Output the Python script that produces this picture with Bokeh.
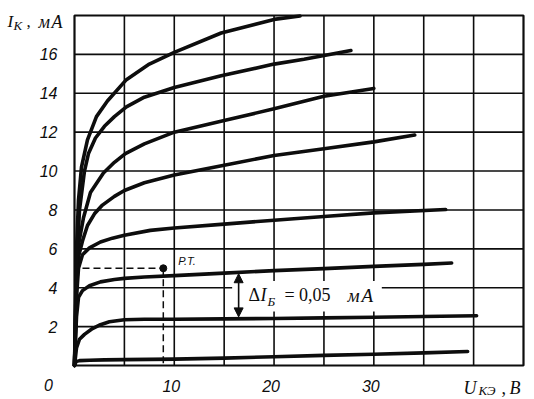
from bokeh.plotting import figure
from bokeh.models import (Label, LabelSet, ColumnDataSource, Arrow, NormalHead,
                          BoxAnnotation, Range1d)
from bokeh.core.properties import value
from bokeh.embed import file_html
from bokeh.resources import INLINE

# ---- data (U_KE in V, I_K in mA) ----
u1 = [0, 0.15, 0.5, 1.5, 3, 5, 10, 15, 20, 25, 30, 35, 39.4]
i1 = [0, 0.2, 0.25, 0.27, 0.29, 0.3, 0.33, 0.38, 0.45, 0.52, 0.58, 0.65, 0.72]

u2 = [0, 0.2, 0.5, 1, 1.8, 2.6, 3.5, 5, 7, 10, 15, 20, 25, 30, 35, 40.3]
i2 = [0, 0.9, 1.35, 1.6, 1.9, 2.1, 2.25, 2.35, 2.38, 2.38, 2.4, 2.42, 2.45, 2.48, 2.52, 2.56]

u3 = [0, 0.2, 0.4, 0.8, 1.5, 2.6, 4, 5, 7, 10, 15, 20, 25, 30, 35, 37.8]
i3 = [0, 2.5, 3.5, 3.85, 4.1, 4.3, 4.42, 4.48, 4.55, 4.62, 4.75, 4.88, 4.98, 5.1, 5.2, 5.27]

u4 = [0, 0.2, 0.4, 0.8, 1.5, 2.6, 3.8, 5, 7.6, 10, 15, 20, 25, 30, 37.2]
i4 = [0, 3.5, 5.0, 5.7, 6.05, 6.35, 6.55, 6.7, 6.95, 7.07, 7.27, 7.47, 7.66, 7.85, 8.02]

u5 = [0, 0.2, 0.4, 0.8, 1.3, 2, 2.8, 4, 5, 7, 10, 15, 20, 25, 30, 34.1]
i5 = [0, 4, 5.6, 6.4, 7.2, 7.8, 8.25, 8.7, 9.0, 9.4, 9.8, 10.3, 10.8, 11.15, 11.5, 11.85]

u6 = [0, 0.2, 0.4, 0.9, 1.6, 2.9, 4, 5.1, 7, 10, 15, 20, 25, 30]
i6 = [0, 4.5, 6.2, 7.6, 8.9, 9.9, 10.45, 10.9, 11.4, 12.0, 12.6, 13.2, 13.85, 14.25]

u7 = [0, 0.2, 0.5, 1, 1.4, 2.1, 3, 4, 5.2, 7, 10, 14.7, 20, 23, 27.7]
i7 = [0, 5, 8, 10, 10.9, 11.7, 12.3, 12.8, 13.3, 13.8, 14.3, 14.9, 15.5, 15.75, 16.2]

u8 = [0, 0.2, 0.4, 0.7, 1.3, 2.2, 3.3, 5.2, 7.5, 10, 14.7, 20, 22.6]
i8 = [0, 6, 8.5, 10.2, 11.6, 12.8, 13.6, 14.7, 15.5, 16.1, 17.1, 17.8, 17.97]

curves_u = [u1, u2, u3, u4, u5, u6, u7, u8]
curves_i = [i1, i2, i3, i4, i5, i6, i7, i8]

# operating point (Р.Т.)
op_u = 8.9
op_i = 5.0
dash_start_u = 0.8

# delta I_B arrow
arrow_u = 16.45
arrow_i_top = 4.72
arrow_i_bottom = 2.5

# axes extents, ticks and grid
u_max = 45
i_max = 18
x_ticks = [10, 20, 30]
x_tick_labels = ["10", "20", "30"]
y_ticks = [2, 4, 6, 8, 10, 12, 14, 16]
y_tick_labels = ["2", "4", "6", "8", "10", "12", "14", "16"]
x_grid = [5, 10, 15, 20, 25, 30, 35, 40]
y_grid = [2, 4, 6, 8, 10, 12, 14, 16]

INK = "#0d0d0d"
SANS = "Liberation Sans"
SERIF = "Liberation Serif"

# ---- layout: chart box in canvas pixels ----
W, H = 534, 399
BOX_L, BOX_R, BOX_T, BOX_B = 74, 523, 15, 365
kx = (BOX_R - BOX_L) / u_max
ky = (BOX_B - BOX_T) / i_max
xr = Range1d(-BOX_L / kx, u_max + (W - BOX_R) / kx)
yr = Range1d(-(H - BOX_B) / ky, i_max + BOX_T / ky)

p = figure(width=W, height=H, x_range=xr, y_range=yr,
           output_backend="svg", toolbar_location=None, min_border=0)
p.background_fill_color = "white"
p.border_fill_color = "white"
p.outline_line_color = None
p.axis.visible = False
p.grid.visible = False

# grid lines and box
p.segment(x0=x_grid, y0=[0] * len(x_grid), x1=x_grid, y1=[i_max] * len(x_grid),
          line_color=INK, line_width=1.6)
p.segment(x0=[0] * len(y_grid), y0=y_grid, x1=[u_max] * len(y_grid), y1=y_grid,
          line_color=INK, line_width=1.6)
p.quad(left=[0], right=[u_max], bottom=[0], top=[i_max],
       fill_color=None, line_color=INK, line_width=2.2)

# curves
for u, i in zip(curves_u, curves_i):
    p.line(u, i, line_color=INK, line_width=3.6, line_join="round", line_cap="round")

# operating point dashes and dot
p.line([dash_start_u, op_u], [op_i, op_i], line_color=INK, line_width=1.5, line_dash="7 4")
p.line([op_u, op_u], [op_i, 0], line_color=INK, line_width=1.5, line_dash="7 4")
p.scatter([op_u], [op_i], size=7, color=INK)

# white box behind the delta label
p.add_layout(BoxAnnotation(left=15.8, right=30.8, bottom=2.78, top=4.35,
                           fill_color="white", fill_alpha=1.0, line_color=None))

p.add_layout(Arrow(x_start=arrow_u, y_start=arrow_i_bottom, x_end=arrow_u, y_end=arrow_i_top,
                   line_color=INK, line_width=1.6,
                   start=NormalHead(size=9, fill_color=INK, line_color=INK),
                   end=NormalHead(size=9, fill_color=INK, line_color=INK)))


def lab(x, y, text, font, size, style="normal", dx=0, dy=0, align="left", base="alphabetic"):
    p.add_layout(Label(x=x, y=y, text=text, x_offset=dx, y_offset=dy,
                       text_font=font, text_font_size=size, text_font_style=style,
                       text_color=INK, text_align=align, text_baseline=base))


# ΔI_Б = 0,05 мА
ax, ay = 17.43, 3.40
lab(ax, ay, "Δ", SERIF, "18px", "normal", dx=0, dy=4)
lab(ax, ay, "I", SERIF, "18px", "italic", dx=12, dy=4)
lab(ax, ay, "Б", SERIF, "13px", "italic", dx=19, dy=-2)
lab(ax, ay, "= 0,05", SERIF, "18px", "normal", dx=36, dy=4)
lab(ax, ay, "м", SERIF, "19px", "italic", dx=99, dy=4)
lab(ax, ay, "А", SERIF, "19px", "italic", dx=113, dy=4)

# Р.Т.
lab(op_u, op_i, "Р.Т.", SANS, "11px", "italic", dx=15, dy=7)

# tick labels
ysrc = ColumnDataSource(dict(x=[0] * len(y_ticks), y=y_ticks, t=y_tick_labels))
p.add_layout(LabelSet(x="x", y="y", text="t", source=ysrc, x_offset=-17, y_offset=0,
                      text_font=value(SANS), text_font_style="italic",
                      text_font_size="16px", text_color=INK,
                      text_align="right", text_baseline="middle"))
xsrc = ColumnDataSource(dict(x=x_ticks, y=[0] * len(x_ticks), t=x_tick_labels))
p.add_layout(LabelSet(x="x", y="y", text="t", source=xsrc, x_offset=-3, y_offset=-20,
                      text_font=value(SANS), text_font_style="italic",
                      text_font_size="16px", text_color=INK,
                      text_align="center", text_baseline="middle"))
# origin "0"
lab(0, 0, "0", SANS, "16px", "italic", dx=-26, dy=-19, align="center", base="middle")

# y title: I_К, мА  (anchored at top-left corner of the box)
lab(0, i_max, "I", SERIF, "17px", "italic", dx=-67, dy=-6)
lab(0, i_max, "К", SERIF, "13px", "italic", dx=-61, dy=-10)
lab(0, i_max, ",", SERIF, "17px", "normal", dx=-48, dy=-6)
lab(0, i_max, "м", SERIF, "18px", "italic", dx=-36, dy=-6)
lab(0, i_max, "А", SERIF, "18px", "italic", dx=-23, dy=-6)

# x title: U_КЭ, В  (anchored at bottom-right corner of the box)
lab(u_max, 0, "U", SERIF, "18px", "italic", dx=-60, dy=-22)
lab(u_max, 0, "КЭ", SERIF, "13px", "italic", dx=-45, dy=-25)
lab(u_max, 0, ",", SERIF, "18px", "normal", dx=-22, dy=-22)
lab(u_max, 0, "В", SERIF, "18px", "italic", dx=-14, dy=-22)

open("out.html", "w").write(file_html(p, INLINE))
